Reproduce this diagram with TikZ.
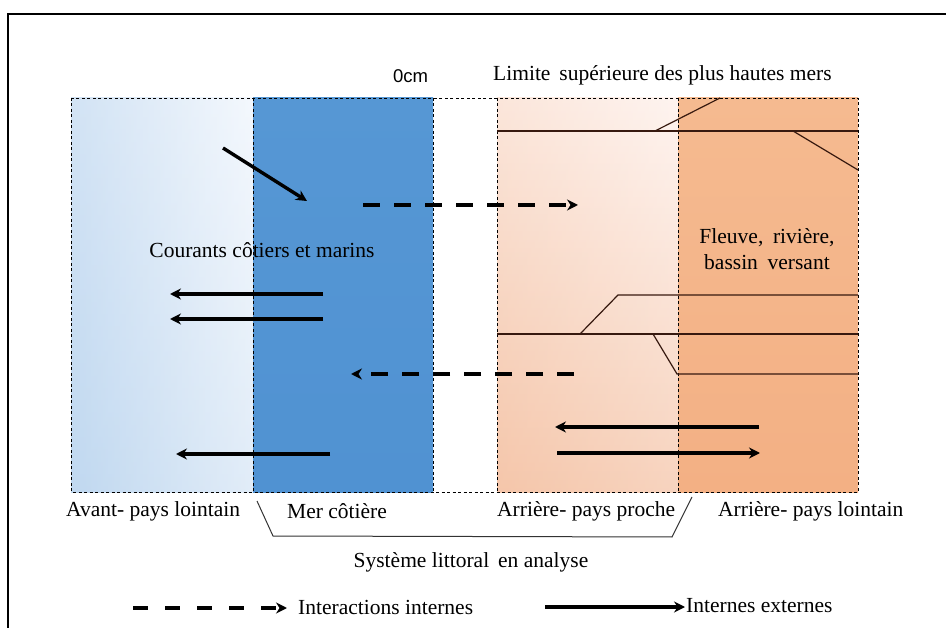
\documentclass[tikz,border=0pt]{standalone}
\usepackage{fontspec}
\setmainfont{Liberation Serif}
\newfontfamily\labelsans{Liberation Sans}
\usetikzlibrary{arrows.meta}

\definecolor{seablue}{RGB}{86,151,212}
\definecolor{seadeep}{RGB}{80,146,210}
\definecolor{farblue}{RGB}{192,216,240}
\definecolor{farwhite}{RGB}{244,248,253}
\definecolor{nearpale}{RGB}{254,244,240}
\definecolor{nearpeach}{RGB}{245,198,170}
\definecolor{landorange}{RGB}{243,176,132}
\definecolor{landlight}{RGB}{245,186,144}
\definecolor{limitline}{RGB}{55,25,15}

\tikzset{
  zoneedge/.style={draw=black, line width=0.8pt, dash pattern=on 3pt off 2.5pt},
  flowarrow/.style={line width=3.4pt, -{Stealth[length=11pt,width=11pt]}},
  innerarrow/.style={line width=3.4pt, dash pattern=on 17pt off 14pt, -{Stealth[length=11pt,width=11pt]}},
  limitthick/.style={draw=limitline, line width=2.6pt},
  limitthin/.style={draw=limitline, line width=1.2pt},
  bracket/.style={draw=black!80, line width=1pt},
  lbl/.style={font=\fontsize{21.5}{25}\selectfont, inner sep=0pt}
}

\begin{document}
\begin{tikzpicture}[x=1pt,y=-1pt]
\useasboundingbox (0,0) rectangle (946,628);

% outer frame (runs past the right and bottom edges)
\draw[line width=2.2pt] (8,628) -- (8,14) -- (946,14);

% zones
\shade[left color=farblue, right color=farwhite] (71,98) rectangle (253,492);
\shade[top color=farwhite, bottom color=farblue, opacity=0.35] (71,98) rectangle (253,492);
\shade[top color=seablue, bottom color=seadeep] (253,98) rectangle (433,492);
\shade[top color=nearpale, bottom color=nearpeach] (497,98) rectangle (678,492);
\shade[left color=nearpeach, right color=nearpale, opacity=0.3] (497,98) rectangle (678,492);
\shade[top color=landlight, bottom color=landorange] (678,98) rectangle (858,492);

% dashed outlines of the zones
\draw[zoneedge] (71,98) rectangle (858,492);
\draw[zoneedge] (253,98) -- (253,492);
\draw[zoneedge] (433,98) -- (433,492);
\draw[zoneedge] (497,98) -- (497,492);
\draw[zoneedge] (678,98) -- (678,492);

% limits inland
\draw[limitthick] (497,131) -- (858,131);
\draw[limitthin] (655,131) -- (720,98);
\draw[limitthin] (793,131) -- (858,170);
\draw[limitthin] (580,334) -- (618,295) -- (858,295);
\draw[limitthick] (497,334) -- (858,334);
\draw[limitthin] (653,334) -- (677,374) -- (858,374);

% flow end points
\coordinate (d1a) at (223,148); \coordinate (d1b) at (307,201);
\coordinate (l1a) at (323,294); \coordinate (l1b) at (170,294);
\coordinate (l2a) at (323,319); \coordinate (l2b) at (170,319);
\coordinate (l3a) at (330,454); \coordinate (l3b) at (176,454);
\coordinate (i1a) at (363,205); \coordinate (i1b) at (578,205);
\coordinate (i2a) at (574,374); \coordinate (i2b) at (351,374);
\coordinate (r1a) at (759,427); \coordinate (r1b) at (555,427);
\coordinate (r2a) at (557,453); \coordinate (r2b) at (760,453);

\draw[flowarrow] (d1a) -- (d1b);
\draw[flowarrow] (l1a) -- (l1b);
\draw[flowarrow] (l2a) -- (l2b);
\draw[flowarrow] (l3a) -- (l3b);
\draw[innerarrow] (i1a) -- (i1b);
\draw[innerarrow] (i2a) -- (i2b);
\draw[flowarrow] (r1a) -- (r1b);
\draw[flowarrow] (r2a) -- (r2b);

% texts in and above the zones
\node[font=\labelsans\fontsize{18.5}{22}\selectfont, inner sep=0pt, anchor=west] (zero) at (393,76) {0cm};
\node[lbl, anchor=west] (limit) at (493,75) {Limite\, supérieure des plus hautes mers};
\node[lbl, anchor=center] (currents) at (262,250) {Courants côtiers et marins};
\node[lbl, align=center, anchor=center, font=\fontsize{21.5}{26}\selectfont] (river) at (767,249) {Fleuve,\hspace{0.45em}rivière,\\ bassin\hspace{0.45em}versant};

% zone names
\node[lbl, anchor=west] (farsea) at (66,511) {Avant- pays lointain};
\node[lbl, anchor=west] (coast) at (287,511) {Mer côtière};
\node[lbl, anchor=west] (nearland) at (497,511) {Arrière- pays proche};
\node[lbl, anchor=west] (farland) at (718,511) {Arrière- pays lointain};

% bracket round the system under study
\coordinate (bk1) at (257,501); \coordinate (bk2) at (273,536);
\coordinate (bk3) at (672,537); \coordinate (bk4) at (692,497);
\draw[bracket] (bk1) -- (bk2) -- (bk3) -- (bk4);
\node[lbl, anchor=center] (system) at (471,562) {Système littoral\, en analyse};

% legend
\coordinate (lg1a) at (133,608); \coordinate (lg1b) at (287,608);
\coordinate (lg2a) at (545,607); \coordinate (lg2b) at (685,607);
\draw[line width=3.4pt, dash pattern=on 15pt off 17pt, -{Stealth[length=11pt,width=11pt]}] (lg1a) -- (lg1b);
\draw[line width=3.4pt, -{Stealth[length=11pt,width=11pt]}] (lg2a) -- (lg2b);
\node[lbl, anchor=west] (leg1) at (298,607) {Interactions internes};
\node[lbl, anchor=west] (leg2) at (686,606) {Internes externes};
\end{tikzpicture}
\end{document}
